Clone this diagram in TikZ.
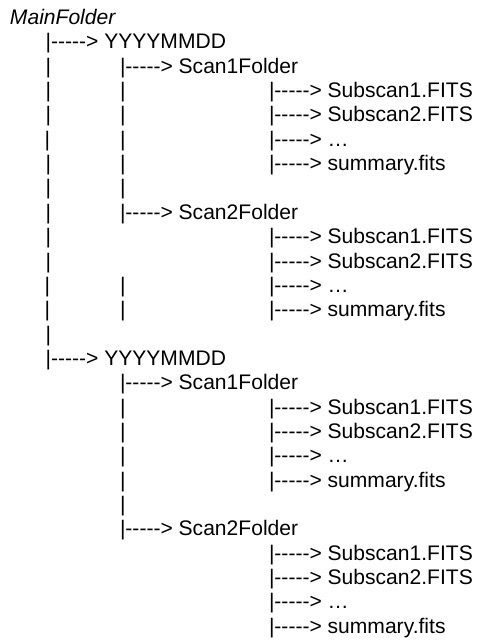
\documentclass[tikz,border=0pt]{standalone}
\usepackage{fontspec}
\newfontfamily\treefont{Liberation Sans}
\newcommand\arr{|\kern0pt-\kern0pt-\kern0pt-\kern0pt-\kern0pt-\kern0pt>\ }
\tikzset{
  txt/.style={anchor=base west, inner sep=0pt, outer sep=0pt,
    font=\treefont\fontsize{15.8}{18}\selectfont},
  ital/.style={txt, font=\treefont\itshape\fontsize{15.8}{18}\selectfont}
}
\begin{document}
\begin{tikzpicture}[x=0.75pt,y=-0.75pt]
\useasboundingbox (0,0) rectangle (477,640);
\def\ca{45.6}\def\cb{120}\def\cc{269}
% line 1
\node[ital] (main) at (10,24.5) {MainFolder};
% first date
\node[txt] (d1) at (\ca,48.85) {\arr YYYYMMDD};
\node[txt] (b3a) at (\ca,73.2) {|};
\node[txt] (s11) at (\cb,73.2) {\arr Scan1Folder};
\node[txt] (b4a) at (\ca,97.55) {|};   \node[txt] (b4b) at (\cb,97.55) {|};  \node[txt] (f4) at (\cc,97.55) {\arr Subscan1.FITS};
\node[txt] (b5a) at (\ca,121.9) {|};   \node[txt] (b5b) at (\cb,121.9) {|};  \node[txt] (f5) at (\cc,121.9) {\arr Subscan2.FITS};
\node[txt] (b6a) at (44.6,146.25) {|}; \node[txt] (b6b) at (\cb,146.25) {|}; \node[txt] (f6) at (\cc,146.25) {\arr …};
\node[txt] (b7a) at (\ca,170.6) {|};   \node[txt] (b7b) at (\cb,170.6) {|};  \node[txt] (f7) at (\cc,170.6) {\arr summary.fits};
\node[txt] (b8a) at (\ca,194.95) {|};  \node[txt] (b8b) at (\cb,194.95) {|};
\node[txt] (b9a) at (\ca,219.3) {|};
\node[txt] (s12) at (\cb,219.3) {\arr Scan2Folder};
\node[txt] (b10a) at (\ca,243.65) {|}; \node[txt] (f10) at (\cc,243.65) {\arr Subscan1.FITS};
\node[txt] (b11a) at (\ca,268) {|};    \node[txt] (f11) at (\cc,268) {\arr Subscan2.FITS};
\node[txt] (b12a) at (44.6,292.35) {|}; \node[txt] (b12b) at (\cb,292.35) {|}; \node[txt] (f12) at (\cc,292.35) {\arr …};
\node[txt] (b13a) at (44.6,316.7) {|};  \node[txt] (b13b) at (\cb,316.7) {|};  \node[txt] (f13) at (\cc,316.7) {\arr summary.fits};
\node[txt] (b14a) at (\ca,341.05) {|};
% second date
\node[txt] (d2) at (\ca,365.4) {\arr YYYYMMDD};
\node[txt] (s21) at (\cb,389.75) {\arr Scan1Folder};
\node[txt] (b17b) at (\cb,414.1) {|};   \node[txt] (f17) at (\cc,414.1) {\arr Subscan1.FITS};
\node[txt] (b18b) at (\cb,438.45) {|};  \node[txt] (f18) at (\cc,438.45) {\arr Subscan2.FITS};
\node[txt] (b19b) at (\cb,462.8) {|};   \node[txt] (f19) at (\cc,462.8) {\arr …};
\node[txt] (b20b) at (\cb,487.15) {|};  \node[txt] (f20) at (\cc,487.15) {\arr summary.fits};
\node[txt] (b21b) at (\cb,511.5) {|};
\node[txt] (s22) at (\cb,535.85) {\arr Scan2Folder};
\node[txt] (f23) at (\cc,560.2) {\arr Subscan1.FITS};
\node[txt] (f24) at (\cc,584.55) {\arr Subscan2.FITS};
\node[txt] (f25) at (\cc,608.9) {\arr …};
\node[txt] (f26) at (\cc,633.25) {\arr summary.fits};
\end{tikzpicture}
\end{document}
